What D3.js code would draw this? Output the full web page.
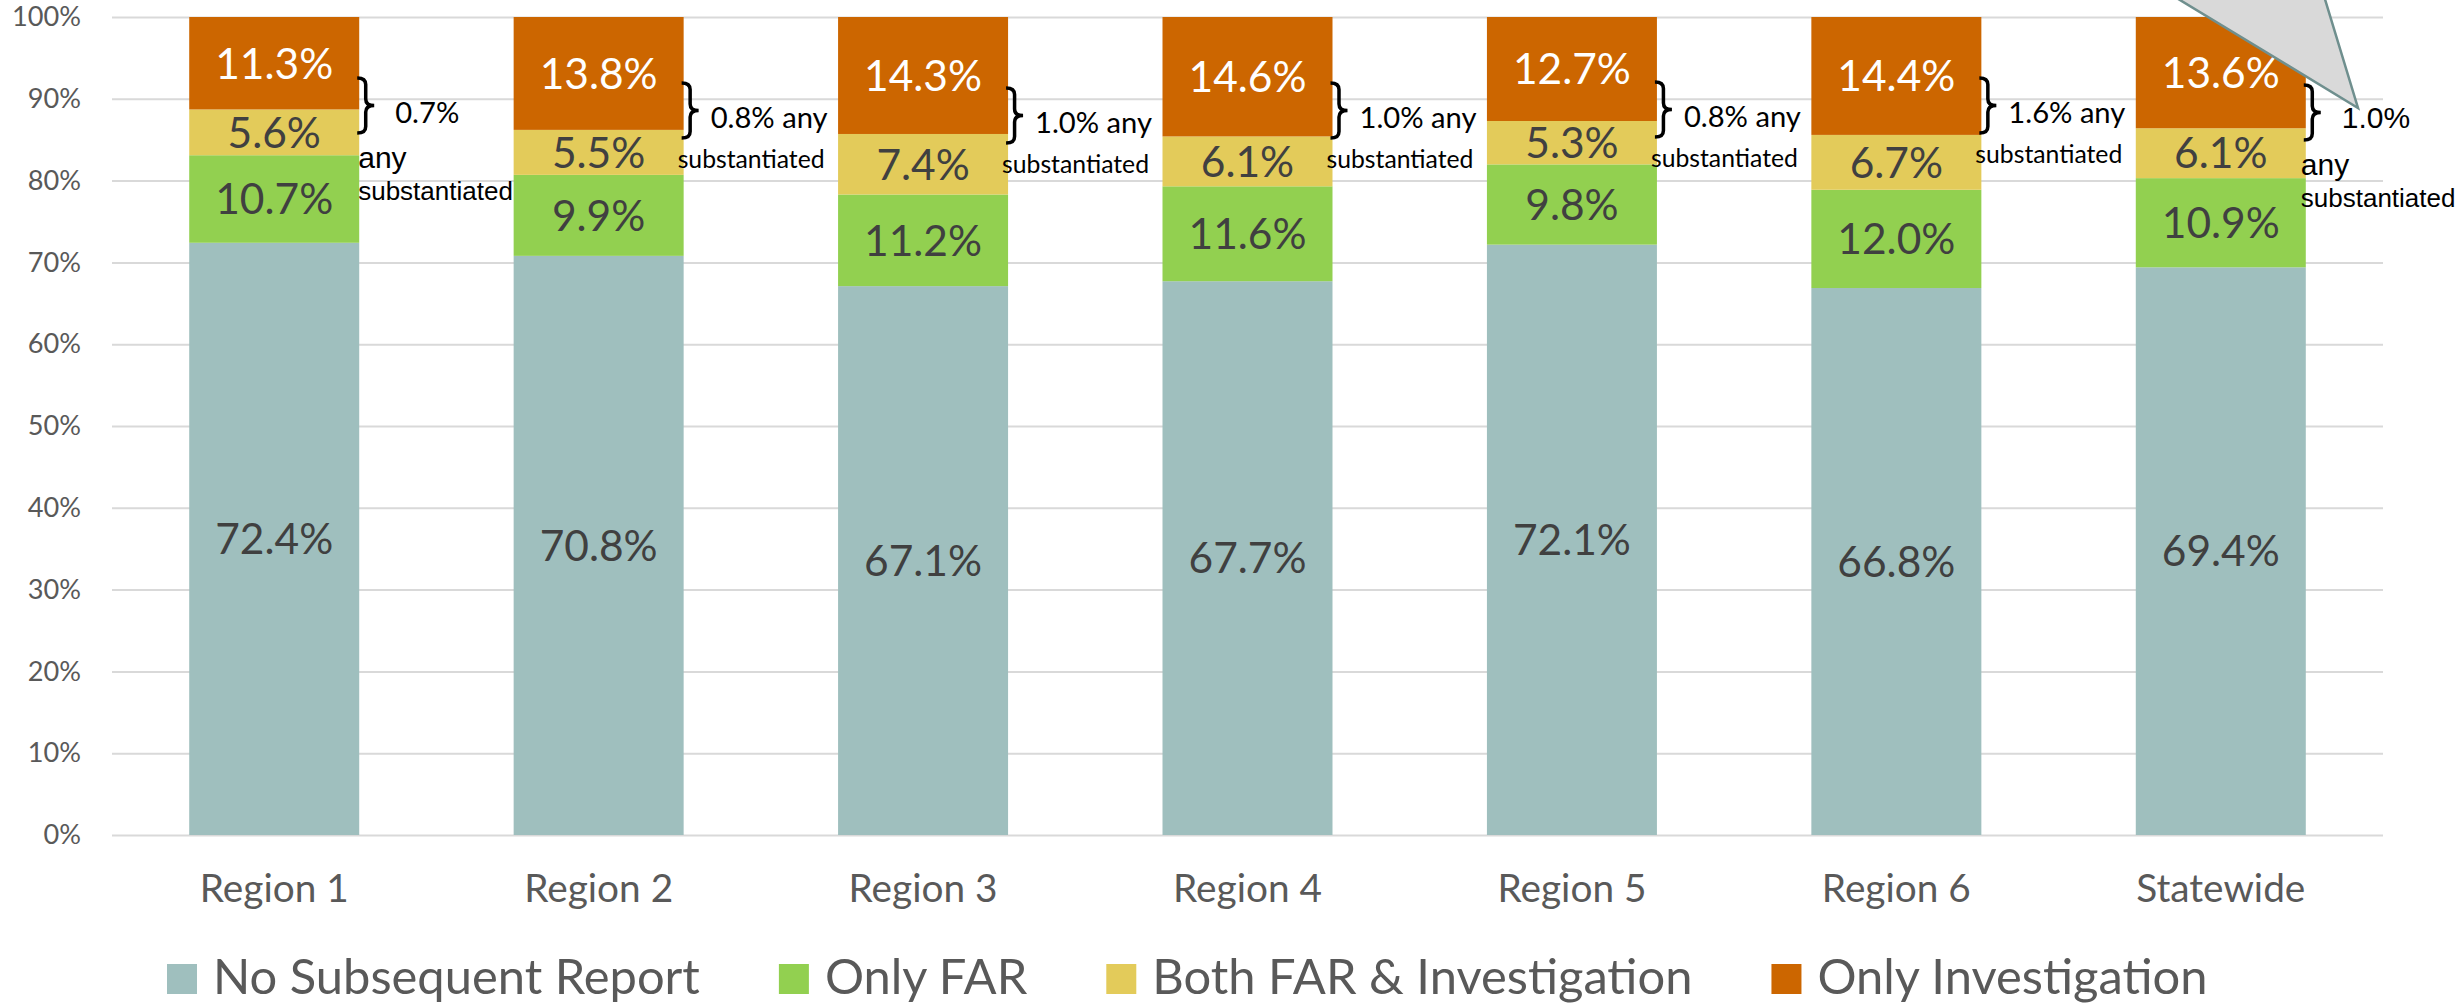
<!DOCTYPE html>
<html>
<head>
<meta charset="utf-8">
<script src="https://cdn.jsdelivr.net/npm/d3@7"></script>
<style>
  html, body { margin: 0; padding: 0; background: #ffffff; }
  svg { display: block; }
</style>
</head>
<body>
<svg id="chart" width="2458" height="1008"></svg>
<script>
// ---------------- DATA ----------------
const categories = ["Region 1", "Region 2", "Region 3", "Region 4", "Region 5", "Region 6", "Statewide"];
const seriesNames = ["No Subsequent Report", "Only FAR", "Both FAR & Investigation", "Only Investigation"];
const noSubsequentReport = [72.4, 70.8, 67.1, 67.7, 72.1, 66.8, 69.4];
const onlyFAR            = [10.7,  9.9, 11.2, 11.6,  9.8, 12.0, 10.9];
const bothFARInvest      = [ 5.6,  5.5,  7.4,  6.1,  5.3,  6.7,  6.1];
const onlyInvestigation  = [11.3, 13.8, 14.3, 14.6, 12.7, 14.4, 13.6];
const anySubstantiated   = ["0.7%", "0.8%", "1.0%", "1.0%", "0.8%", "1.6%", "1.0%"];
const yTickValues        = [0, 10, 20, 30, 40, 50, 60, 70, 80, 90, 100];

// ---------------- STYLE / LAYOUT ----------------
const seriesColors = ["#9FBFBE", "#92D050", "#E3CB5A", "#CC6600"];
const labelColors  = ["#404040", "#404040", "#404040", "#FFFFFF"];
const annotKind    = ["stacked", "inline", "inline", "inline", "inline", "inline", "stackedArial"];
const braceTops    = [78, 83, 88, 83, 82, 78, 85];

const W = 2458, H = 1008;
const plot = { left: 112, right: 2383, top: 17, bottom: 835 };
const LATO = "Lato, 'Open Sans', sans-serif";
const ARIAL = "'Liberation Sans', Arial, sans-serif";

const svg = d3.select("#chart");

// helper: font size so that a sample string has a given width
function fitSize(family, sample, target) {
  const t = svg.append("text").attr("font-family", family).attr("font-size", 100).text(sample);
  const w = t.node().getComputedTextLength();
  t.remove();
  return 100 * target / w;
}
const fsData   = fitSize(LATO, "72.4%", 118);
const fsYTick  = fitSize(LATO, "100%", 69);
const fsCat    = fitSize(LATO, "Region 6", 149);
const fsLegend = fitSize(LATO, "No Subsequent Report", 487);
const fsAnn1   = fitSize(LATO, "0.8% any", 117);
const fsAnn2   = fitSize(LATO, "substantiated", 147);

// ---------------- SCALES ----------------
const x = d3.scaleBand().domain(categories)
  .range([plot.left, plot.right]).paddingInner(0.476).paddingOuter(0.238);
const y = d3.scaleLinear().domain([0, 1]).range([plot.bottom, plot.top]);

const rows = categories.map((c, i) => ({
  category: c,
  [seriesNames[0]]: noSubsequentReport[i],
  [seriesNames[1]]: onlyFAR[i],
  [seriesNames[2]]: bothFARInvest[i],
  [seriesNames[3]]: onlyInvestigation[i]
}));
const stacked = d3.stack().keys(seriesNames).offset(d3.stackOffsetExpand)(rows);

// ---------------- GRIDLINES + Y AXIS ----------------
const yAxis = d3.axisLeft(y)
  .tickValues(yTickValues.map(v => v / 100))
  .tickFormat(d => Math.round(d * 100) + "%")
  .tickSize(-(plot.right - plot.left))
  .tickPadding(31);
const gy = svg.append("g").attr("transform", `translate(${plot.left},0)`).call(yAxis);
gy.select(".domain").remove();
gy.selectAll(".tick line").attr("stroke", "#D9D9D9").attr("stroke-width", 2);
gy.selectAll(".tick text")
  .attr("font-family", LATO).attr("font-size", fsYTick).attr("fill", "#595959");

// ---------------- BARS ----------------
const layers = svg.append("g").selectAll("g").data(stacked).join("g")
  .attr("fill", (d, i) => seriesColors[i]);
layers.selectAll("rect").data(d => d).join("rect")
  .attr("x", d => x(d.data.category))
  .attr("width", x.bandwidth())
  .attr("y", d => y(d[1]))
  .attr("height", d => y(d[0]) - y(d[1]));

// data labels
const labelLayers = svg.append("g").selectAll("g").data(stacked).join("g")
  .attr("fill", (d, i) => labelColors[i]);
labelLayers.selectAll("text").data(d => d.map(p => ({ p, key: d.key }))).join("text")
  .attr("x", d => x(d.p.data.category) + x.bandwidth() / 2)
  .attr("y", d => (y(d.p[0]) + y(d.p[1])) / 2)
  .attr("dy", "0.36em")
  .attr("text-anchor", "middle")
  .attr("font-family", LATO)
  .attr("font-size", fsData)
  .text(d => d.p.data[d.key].toFixed(1) + "%");

// ---------------- X AXIS ----------------
const xAxis = d3.axisBottom(x).tickSize(0);
const gx = svg.append("g").attr("transform", `translate(0,${plot.bottom})`).call(xAxis);
gx.select(".domain").remove();
gx.selectAll(".tick text")
  .attr("y", 902 - plot.bottom).attr("dy", null)
  .attr("font-family", LATO).attr("font-size", fsCat).attr("fill", "#595959");

// ---------------- ANNOTATIONS ----------------
function bracePath(x0, top, h, w) {
  const ym = top + h / 2, xm = x0 + w / 2, k = h * 0.12;
  return `M${x0},${top} Q${xm},${top} ${xm},${top + k} L${xm},${ym - k} Q${xm},${ym} ${x0 + w},${ym}` +
         ` Q${xm},${ym} ${xm},${ym + k} L${xm},${top + h - k} Q${xm},${top + h} ${x0},${top + h}`;
}
const ann = svg.append("g");
categories.forEach((c, i) => {
  const right = x(c) + x.bandwidth();
  const top = braceTops[i];
  ann.append("path")
    .attr("d", bracePath(right - 2, top, 55, 17))
    .attr("fill", "none").attr("stroke", "#000").attr("stroke-width", 3.5);
  const kind = annotKind[i];
  if (kind === "inline") {
    ann.append("text").attr("x", right + 27).attr("y", top + 45)
      .attr("font-family", LATO).attr("font-size", fsAnn1).attr("fill", "#000")
      .text(anySubstantiated[i] + " any");
    ann.append("text").attr("x", right - 6).attr("y", top + 85)
      .attr("font-family", LATO).attr("font-size", fsAnn2).attr("fill", "#000")
      .text("substantiated");
  } else {
    const arial = kind === "stackedArial";
    const dx = arial ? -5 : -1;
    ann.append("text").attr("x", right + 36).attr("y", top + (arial ? 43 : 45))
      .attr("font-family", arial ? ARIAL : LATO).attr("font-size", arial ? 30 : fsAnn1).attr("fill", "#000")
      .text(anySubstantiated[i]);
    ann.append("text").attr("x", right + dx).attr("y", top + 90)
      .attr("font-family", ARIAL).attr("font-size", 30).attr("fill", "#000")
      .text("any");
    ann.append("text").attr("x", right + dx).attr("y", top + 122)
      .attr("font-family", ARIAL).attr("font-size", 26).attr("fill", "#000")
      .text("substantiated");
  }
});

// ---------------- LEGEND ----------------
const legend = svg.append("g");
let lx = 167;
seriesNames.forEach((name, i) => {
  legend.append("rect").attr("x", lx).attr("y", 964).attr("width", 30).attr("height", 30)
    .attr("fill", seriesColors[i]);
  const t = legend.append("text").attr("x", lx + 46).attr("y", 994)
    .attr("font-family", LATO).attr("font-size", fsLegend).attr("fill", "#595959")
    .text(name);
  lx = lx + 46 + t.node().getComputedTextLength() + 79;
});

// ---------------- CALLOUT SHAPE (partially off-canvas) ----------------
svg.append("polygon")
  .attr("points", "2081,-60 2358,108 2307,-60")
  .attr("fill", "#D9D9D9").attr("stroke", "#6F8F8E").attr("stroke-width", 2.5)
  .attr("stroke-linejoin", "miter");
</script>
</body>
</html>
